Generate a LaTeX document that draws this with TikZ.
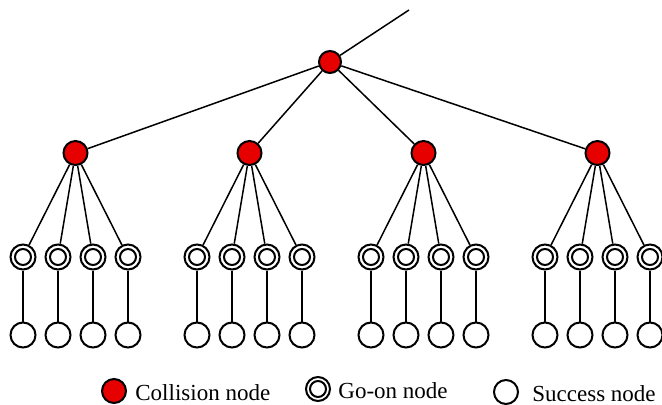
\documentclass[tikz,border=0pt]{standalone}
\usepackage{fontspec}
\setmainfont{Liberation Serif}
\definecolor{collred}{RGB}{230,0,0}
\begin{document}
\begin{tikzpicture}[x=0.5pt,y=-0.5pt,
  coll/.style={circle,draw,line width=1pt,fill=collred,minimum size=12pt,inner sep=0pt},
  goon/.style={circle,draw,line width=1pt,fill=white,minimum size=12.5pt,inner sep=0pt,
    path picture={\draw[line width=1pt] (path picture bounding box.center) circle (4pt);}},
  succ/.style={circle,draw,line width=1pt,fill=white,minimum size=12.5pt,inner sep=0pt},
  edge/.style={line width=0.75pt},
  lbl/.style={anchor=west,inner sep=0pt,font=\fontsize{11.5}{13}\selectfont}]
\useasboundingbox (0,0) rectangle (662,405);
\node[coll,minimum size=11pt] (root) at (330,62) {};
\coordinate (top) at (409,10);
\draw[edge] (root) -- (top);
\foreach \i/\cx in {1/75.5,2/249.5,3/423.5,4/597.5} {
  \node[coll] (c\i) at (\cx,153) {};
  \draw[edge] (root) -- (c\i);
  \foreach \j/\dx in {1/-52.5,2/-17.5,3/17.5,4/52.5} {
    \node[goon] (g\i\j) at (\cx+\dx,257) {};
    \node[succ] (s\i\j) at (\cx+\dx,335) {};
    \draw[edge] (c\i) -- (g\i\j);
    \draw[edge] (g\i\j) -- (s\i\j);
  }
}
% legend
\node[coll] (lc) at (114,391) {};
\node[lbl] (lct) at (135,393) {Collision node};
\node[goon,minimum size=12pt] (lg) at (318,389) {};
\node[lbl] (lgt) at (338,391) {Go-on node};
\node[succ,minimum size=12pt] (ls) at (506,392) {};
\node[lbl] (lst) at (532,394) {Success node};
\end{tikzpicture}
\end{document}
